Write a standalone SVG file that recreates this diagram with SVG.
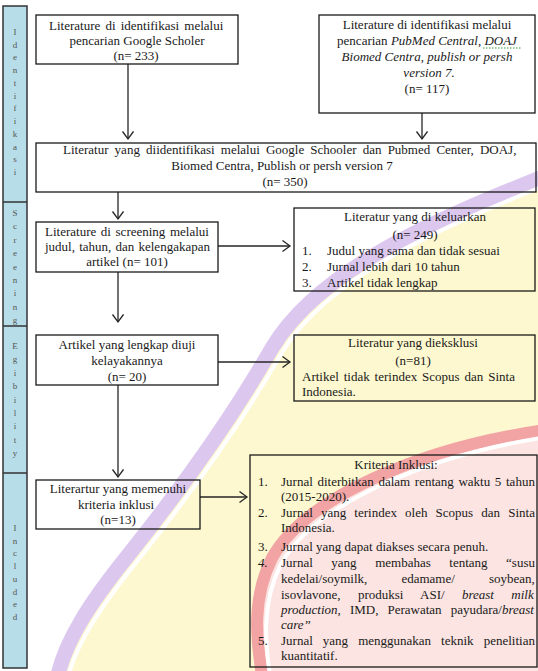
<svg xmlns="http://www.w3.org/2000/svg" width="538" height="671" viewBox="0 0 538 671">
<style>
.box{fill:none;stroke:#1a1a1a;stroke-width:1.3}
.t{font-family:"Liberation Serif","Times New Roman",serif;font-size:13px;fill:#1a1a1a}
.c{text-anchor:middle}
.i{font-style:italic}
.side{font-family:"Liberation Serif","Times New Roman",serif;font-size:9px;fill:#555;text-anchor:middle}
.conn line{stroke:#262626;stroke-width:1.3;fill:none;marker-end:url(#ah)}
</style>
<defs>
<marker id="ah" markerWidth="12" markerHeight="14" refX="8" refY="6" orient="auto" markerUnits="userSpaceOnUse">
<path d="M0.5,0.5 L8,6 L0.5,11.5" fill="none" stroke="#262626" stroke-width="1.3"/>
</marker>
</defs>
<rect width="538" height="671" fill="#ffffff"/>
<g id="watermark">
<path d="M545 176 C440 218 320 268 272 348 C232 418 182 488 126 558 C90 603 66 640 58 675 L545 675 Z" fill="#fdf8cf"/>
<path d="M545 430 C420 448 305 498 272 558 C252 598 256 638 262 675 L545 675 Z" fill="#fbe4e1"/>
<path d="M545 176 C440 218 320 268 272 348 C232 418 182 488 126 558 C90 603 66 640 58 675" fill="none" stroke="#dcc7ef" stroke-width="15"/>
<path d="M545 176 C440 218 320 268 272 348 C232 418 182 488 126 558 C90 603 66 640 58 675" fill="none" stroke="#ffffff" stroke-width="4" transform="translate(9,6)"/>
<path d="M545 430 C420 448 305 498 272 558 C252 598 256 638 262 675" fill="none" stroke="#f2a3a3" stroke-width="12"/>
<path d="M545 430 C420 448 305 498 272 558 C252 598 256 638 262 675" fill="none" stroke="#ffffff" stroke-width="4" transform="translate(9,6)"/>
</g>
<g id="sidebar">
<rect x="3" y="6" width="24" height="662" fill="#b7dde8" stroke="#333" stroke-width="1.5"/>
<line x1="3" y1="202" x2="27" y2="202" stroke="#333" stroke-width="1.5"/>
<line x1="3" y1="326" x2="27" y2="326" stroke="#333" stroke-width="1.5"/>
<line x1="3" y1="473" x2="27" y2="473" stroke="#333" stroke-width="1.5"/>
<text class="side" x="15" y="35"><tspan x="15">I</tspan><tspan x="15" dy="12.73">d</tspan><tspan x="15" dy="12.73">e</tspan><tspan x="15" dy="12.73">n</tspan><tspan x="15" dy="12.73">t</tspan><tspan x="15" dy="12.73">i</tspan><tspan x="15" dy="12.73">f</tspan><tspan x="15" dy="12.73">i</tspan><tspan x="15" dy="12.73">k</tspan><tspan x="15" dy="12.73">a</tspan><tspan x="15" dy="12.73">s</tspan><tspan x="15" dy="12.73">i</tspan></text>
<text class="side" x="15" y="216"><tspan x="15">S</tspan><tspan x="15" dy="13.4">c</tspan><tspan x="15" dy="13.4">r</tspan><tspan x="15" dy="13.4">e</tspan><tspan x="15" dy="13.4">e</tspan><tspan x="15" dy="13.4">n</tspan><tspan x="15" dy="13.4">i</tspan><tspan x="15" dy="13.4">n</tspan><tspan x="15" dy="13.4">g</tspan></text>
<text class="side" x="15" y="349"><tspan x="15">E</tspan><tspan x="15" dy="13.4">g</tspan><tspan x="15" dy="13.4">i</tspan><tspan x="15" dy="13.4">b</tspan><tspan x="15" dy="13.4">i</tspan><tspan x="15" dy="13.4">l</tspan><tspan x="15" dy="13.4">i</tspan><tspan x="15" dy="13.4">t</tspan><tspan x="15" dy="13.4">y</tspan></text>
<text class="side" x="15" y="531"><tspan x="15">I</tspan><tspan x="15" dy="12.7">n</tspan><tspan x="15" dy="12.7">c</tspan><tspan x="15" dy="12.7">l</tspan><tspan x="15" dy="12.7">u</tspan><tspan x="15" dy="12.7">d</tspan><tspan x="15" dy="12.7">e</tspan><tspan x="15" dy="12.7">d</tspan></text>
</g>
<g class="conn" id="connectors">
<line x1="128" y1="64" x2="128" y2="139"/>
<line x1="422" y1="113" x2="422" y2="139"/>
<line x1="118" y1="192" x2="118" y2="219"/>
<line x1="118" y1="272" x2="118" y2="322"/>
<line x1="118" y1="385" x2="118" y2="477"/>
<line x1="218" y1="246" x2="290" y2="246"/>
<line x1="218" y1="362" x2="290" y2="362"/>
<line x1="200" y1="497" x2="247" y2="497"/>
</g>
<g id="google">
<rect class="box" x="36" y="15" width="202" height="49"/>
<text class="t" x="49" y="30" word-spacing="1.9">Literature di identifikasi melalui</text>
<text class="t c" x="137" y="45">pencarian Google Scholer</text>
<text class="t c" x="136" y="60">(n= 233)</text>
</g>
<g id="pubmed">
<rect class="box" x="319" y="15" width="216" height="98"/>
<text class="t c" x="427" y="29">Literature di identifikasi melalui</text>
<text class="t c" x="427" y="45">pencarian <tspan class="i">PubMed Central, DOAJ</tspan></text>
<line x1="483" y1="48" x2="521" y2="48" stroke="#3a9a3a" stroke-width="1" stroke-dasharray="1.5 1.5"/>
<text class="t c i" x="427" y="61">Biomed Centra, publish or persh</text>
<text class="t c i" x="429" y="77">version 7.</text>
<text class="t c" x="427" y="93">(n= 117)</text>
</g>
<g id="combined">
<rect class="box" x="36" y="143" width="500" height="49"/>
<text class="t" x="63" y="154" word-spacing="2.9">Literatur yang diidentifikasi melalui Google Schooler dan Pubmed Center, DOAJ,</text>
<text class="t c" x="282" y="170">Biomed Centra, Publish or persh version 7</text>
<text class="t c" x="285" y="186">(n= 350)</text>
</g>
<g id="screening">
<rect class="box" x="36" y="222" width="182" height="50"/>
<text class="t" x="45" y="236" word-spacing="1.35">Literature di screening melalui</text>
<text class="t" x="45" y="251" word-spacing="0.95">judul, tahun, dan kelengakapan</text>
<text class="t c" x="127" y="266">artikel (n= 101)</text>
</g>
<g id="eligibility">
<rect class="box" x="36" y="335" width="182" height="50"/>
<text class="t c" x="127" y="349">Artikel yang lengkap diuji</text>
<text class="t c" x="127" y="365">kelayakannya</text>
<text class="t c" x="127" y="381">(n= 20)</text>
</g>
<g id="included">
<rect class="box" x="36" y="480" width="164" height="49"/>
<text class="t c" x="118" y="493">Literartur yang memenuhi</text>
<text class="t c" x="116" y="509">kriteria inklusi</text>
<text class="t c" x="118" y="524">(n=13)</text>
</g>
<g id="excluded1">
<rect class="box" x="294" y="208" width="241" height="83"/>
<text class="t c" x="415" y="221">Literatur yang di keluarkan</text>
<text class="t c" x="415" y="239">(n= 249)</text>
<text class="t" x="302" y="255">1.</text>
<text class="t" x="327" y="255">Judul yang sama dan tidak sesuai</text>
<text class="t" x="302" y="271">2.</text>
<text class="t" x="327" y="271">Jurnal lebih dari 10 tahun</text>
<text class="t" x="302" y="287">3.</text>
<text class="t" x="327" y="287">Artikel tidak lengkap</text>
</g>
<g id="excluded2">
<rect class="box" x="294" y="335" width="241" height="66"/>
<text class="t c" x="413" y="347">Literatur yang dieksklusi</text>
<text class="t c" x="413" y="365">(n=81)</text>
<text class="t" x="302" y="381" word-spacing="1.65">Artikel tidak terindex Scopus dan Sinta</text>
<text class="t" x="302" y="396">Indonesia.</text>
</g>
<g id="criteria">
<rect class="box" x="250" y="455" width="287" height="212"/>
<text class="t c" x="396" y="469">Kriteria Inklusi:</text>
<text class="t" x="258" y="486">1.</text>
<text class="t" x="281" y="486" word-spacing="1.4">Jurnal diterbitkan dalam rentang waktu 5 tahun</text>
<text class="t" x="281" y="501">(2015-2020).</text>
<text class="t" x="258" y="517">2.</text>
<text class="t" x="281" y="517" word-spacing="4.9">Jurnal yang terindex oleh Scopus dan Sinta</text>
<text class="t" x="281" y="532">Indonesia.</text>
<text class="t" x="258" y="551">3.</text>
<text class="t" x="281" y="551">Jurnal yang dapat diakses secara penuh.</text>
<text class="t i" x="258" y="567">4.</text>
<text class="t" x="281" y="567" word-spacing="15.3">Jurnal yang membahas tentang “susu</text>
<text class="t" x="281" y="583" word-spacing="30.9">kedelai/soymilk, edamame/ soybean,</text>
<text class="t" x="281" y="599" word-spacing="14.1">isovlavone, produksi ASI/ <tspan class="i">breast milk</tspan></text>
<text class="t" x="281" y="614" word-spacing="5.8"><tspan class="i">production,</tspan> IMD, Perawatan payudara/<tspan class="i">breast</tspan></text>
<text class="t i" x="281" y="629">care”</text>
<text class="t" x="258" y="645">5.</text>
<text class="t" x="281" y="645" word-spacing="6.8">Jurnal yang menggunakan teknik penelitian</text>
<text class="t" x="281" y="660">kuantitatif.</text>
</g>
</svg>
